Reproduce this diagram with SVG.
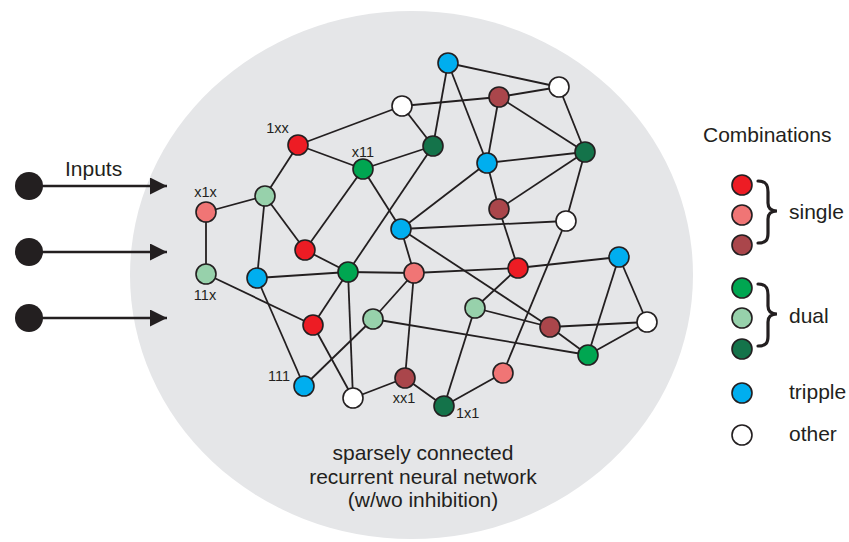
<svg xmlns="http://www.w3.org/2000/svg" width="849" height="542" viewBox="0 0 849 542">
<defs>
<style>
text{font-family:"Liberation Sans",Arial,sans-serif;fill:#231f20}
.big{font-size:21px}
.lbl{font-size:14.5px}
.e line{stroke:#231f20;stroke-width:1.8}
.n{stroke:#231f20;stroke-width:1.6}
.red{fill:#ed1c24}.pink{fill:#f07575}.dred{fill:#aa464b}
.grn{fill:#00a651}.lgrn{fill:#97d1ab}.dgrn{fill:#14734a}
.blue{fill:#00aeef}.wht{fill:#ffffff}
.brace{fill:none;stroke:#231f20;stroke-width:3.2;stroke-linecap:round}
.inp{stroke:#231f20;stroke-width:2.4}
</style>
<marker id="arr" markerUnits="userSpaceOnUse" markerWidth="18" markerHeight="18" refX="17" refY="8.5" orient="auto">
<path d="M0,0 L17,8.5 L0,17 z" fill="#231f20"/>
</marker>
</defs>
<ellipse id="background" cx="411.5" cy="275" rx="281.5" ry="264" fill="#e5e6e8"/>
<g id="inputs">
<text class="big" x="65" y="176">Inputs</text>
<line class="inp" x1="29" y1="186" x2="167" y2="186" marker-end="url(#arr)"/>
<line class="inp" x1="29" y1="252" x2="167" y2="252" marker-end="url(#arr)"/>
<line class="inp" x1="29" y1="318" x2="167" y2="318" marker-end="url(#arr)"/>
<circle cx="29" cy="186" r="14" fill="#231f20"/>
<circle cx="29" cy="252" r="14" fill="#231f20"/>
<circle cx="29" cy="318" r="14" fill="#231f20"/>
</g>
<g id="connectors" class="e">
<line x1="298" y1="145" x2="402" y2="106"/>
<line x1="298" y1="145" x2="363" y2="169"/>
<line x1="298" y1="145" x2="265" y2="196"/>
<line x1="363" y1="169" x2="433" y2="146"/>
<line x1="363" y1="169" x2="401" y2="229"/>
<line x1="363" y1="169" x2="305" y2="250"/>
<line x1="265" y1="196" x2="206" y2="212"/>
<line x1="265" y1="196" x2="257" y2="278"/>
<line x1="265" y1="196" x2="305" y2="250"/>
<line x1="206" y1="212" x2="206" y2="274"/>
<line x1="402" y1="106" x2="433" y2="146"/>
<line x1="402" y1="106" x2="499" y2="97"/>
<line x1="433" y1="146" x2="448" y2="63"/>
<line x1="433" y1="146" x2="348" y2="272"/>
<line x1="401" y1="229" x2="566" y2="221"/>
<line x1="401" y1="229" x2="487" y2="163"/>
<line x1="401" y1="229" x2="550" y2="327"/>
<line x1="401" y1="229" x2="414" y2="273"/>
<line x1="448" y1="63" x2="559" y2="87"/>
<line x1="448" y1="63" x2="487" y2="163"/>
<line x1="499" y1="97" x2="559" y2="87"/>
<line x1="499" y1="97" x2="487" y2="163"/>
<line x1="499" y1="97" x2="585" y2="152"/>
<line x1="559" y1="87" x2="585" y2="152"/>
<line x1="487" y1="163" x2="585" y2="152"/>
<line x1="487" y1="163" x2="499" y2="209"/>
<line x1="585" y1="152" x2="499" y2="209"/>
<line x1="585" y1="152" x2="566" y2="221"/>
<line x1="499" y1="209" x2="518" y2="268"/>
<line x1="566" y1="221" x2="503" y2="373"/>
<line x1="206" y1="274" x2="313" y2="325"/>
<line x1="257" y1="278" x2="348" y2="272"/>
<line x1="257" y1="278" x2="304" y2="386"/>
<line x1="305" y1="250" x2="348" y2="272"/>
<line x1="348" y1="272" x2="414" y2="273"/>
<line x1="348" y1="272" x2="313" y2="325"/>
<line x1="348" y1="272" x2="353" y2="398"/>
<line x1="414" y1="273" x2="518" y2="268"/>
<line x1="414" y1="273" x2="373" y2="319"/>
<line x1="414" y1="273" x2="405" y2="378"/>
<line x1="313" y1="325" x2="353" y2="398"/>
<line x1="373" y1="319" x2="304" y2="386"/>
<line x1="373" y1="319" x2="588" y2="355"/>
<line x1="353" y1="398" x2="405" y2="378"/>
<line x1="405" y1="378" x2="444" y2="406"/>
<line x1="444" y1="406" x2="503" y2="373"/>
<line x1="444" y1="406" x2="475" y2="308"/>
<line x1="518" y1="268" x2="619" y2="257"/>
<line x1="518" y1="268" x2="475" y2="308"/>
<line x1="475" y1="308" x2="550" y2="327"/>
<line x1="550" y1="327" x2="647" y2="322"/>
<line x1="550" y1="327" x2="588" y2="355"/>
<line x1="619" y1="257" x2="647" y2="322"/>
<line x1="619" y1="257" x2="588" y2="355"/>
<line x1="647" y1="322" x2="588" y2="355"/>
</g>
<g id="n1"><circle class="n blue" cx="448" cy="63" r="10"/></g>
<g id="n2"><circle class="n wht" cx="402" cy="106" r="10"/></g>
<g id="n3"><circle class="n dred" cx="499" cy="97" r="10"/></g>
<g id="n4"><circle class="n wht" cx="559" cy="87" r="10"/></g>
<g id="n5"><circle class="n red" cx="298" cy="145" r="10"/><text class="lbl" x="277.5" y="133" text-anchor="middle">1xx</text></g>
<g id="n6"><circle class="n dgrn" cx="433" cy="146" r="10"/></g>
<g id="n7"><circle class="n grn" cx="363" cy="169" r="10"/><text class="lbl" x="363" y="157" text-anchor="middle">x11</text></g>
<g id="n8"><circle class="n blue" cx="487" cy="163" r="10"/></g>
<g id="n9"><circle class="n dgrn" cx="585" cy="152" r="10"/></g>
<g id="n10"><circle class="n lgrn" cx="265" cy="196" r="10"/></g>
<g id="n11"><circle class="n pink" cx="206" cy="212" r="10"/><text class="lbl" x="205.5" y="197" text-anchor="middle">x1x</text></g>
<g id="n12"><circle class="n dred" cx="499" cy="209" r="10"/></g>
<g id="n13"><circle class="n wht" cx="566" cy="221" r="10"/></g>
<g id="n14"><circle class="n blue" cx="401" cy="229" r="10"/></g>
<g id="n15"><circle class="n red" cx="305" cy="250" r="10"/></g>
<g id="n16"><circle class="n grn" cx="348" cy="272" r="10"/></g>
<g id="n17"><circle class="n pink" cx="414" cy="273" r="10"/></g>
<g id="n18"><circle class="n red" cx="518" cy="268" r="10"/></g>
<g id="n19"><circle class="n blue" cx="619" cy="257" r="10"/></g>
<g id="n20"><circle class="n lgrn" cx="206" cy="274" r="10"/><text class="lbl" x="205" y="300" text-anchor="middle">11x</text></g>
<g id="n21"><circle class="n blue" cx="257" cy="278" r="10"/></g>
<g id="n22"><circle class="n lgrn" cx="373" cy="319" r="10"/></g>
<g id="n23"><circle class="n red" cx="313" cy="325" r="10"/></g>
<g id="n24"><circle class="n lgrn" cx="475" cy="308" r="10"/></g>
<g id="n25"><circle class="n dred" cx="550" cy="327" r="10"/></g>
<g id="n26"><circle class="n wht" cx="647" cy="322" r="10"/></g>
<g id="n27"><circle class="n grn" cx="588" cy="355" r="10"/></g>
<g id="n28"><circle class="n pink" cx="503" cy="373" r="10"/></g>
<g id="n29"><circle class="n blue" cx="304" cy="386" r="10"/><text class="lbl" x="279" y="381" text-anchor="middle">111</text></g>
<g id="n30"><circle class="n wht" cx="353" cy="398" r="10"/></g>
<g id="n31"><circle class="n dred" cx="405" cy="378" r="10"/><text class="lbl" x="404" y="403" text-anchor="middle">xx1</text></g>
<g id="n32"><circle class="n dgrn" cx="444" cy="406" r="10"/><text class="lbl" x="456" y="418">1x1</text></g>
<g id="caption">
<text class="big" x="423" y="460" text-anchor="middle">sparsely connected</text>
<text class="big" x="423" y="484" text-anchor="middle">recurrent neural network</text>
<text class="big" x="423" y="507" text-anchor="middle">(w/wo inhibition)</text>
</g>
<g id="legend">
<text class="big" x="703" y="142">Combinations</text>
<circle class="n red" cx="742" cy="185" r="10"/>
<circle class="n pink" cx="742" cy="215" r="10"/>
<circle class="n dred" cx="742" cy="245" r="10"/>
<path class="brace" d="M758,181 C766,181 768,185 768,192 L768,203 C768,208 771,211 777,211 C771,211 768,214 768,219 L768,233 C768,240 766,243 758,243"/>
<text class="big" x="789" y="219">single</text>
<circle class="n grn" cx="742" cy="288" r="10"/>
<circle class="n lgrn" cx="742" cy="318" r="10"/>
<circle class="n dgrn" cx="742" cy="349" r="10"/>
<path class="brace" d="M758,284 C766,284 768,288 768,295 L768,306 C768,311 771,314 777,314 C771,314 768,317 768,322 L768,336 C768,343 766,346 758,346"/>
<text class="big" x="789" y="323">dual</text>
<circle class="n blue" cx="742" cy="393" r="10"/>
<text class="big" x="789" y="399">tripple</text>
<circle class="n wht" cx="742" cy="435" r="10"/>
<text class="big" x="789" y="441">other</text>
</g>
</svg>
